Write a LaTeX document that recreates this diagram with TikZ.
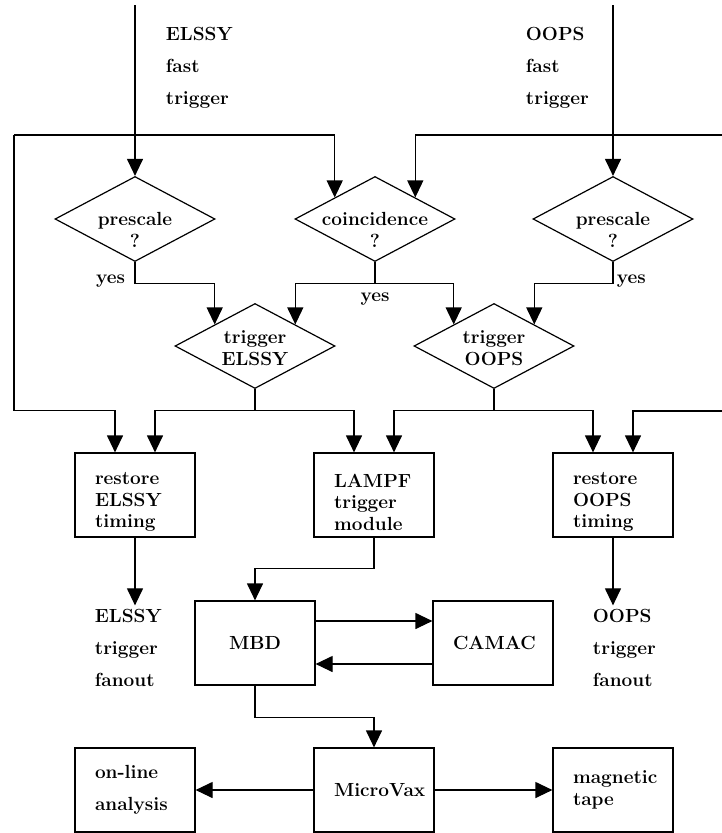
\documentclass[tikz,border=0pt]{standalone}
\usepackage{tikz}
\usetikzlibrary{arrows.meta,calc,positioning,shapes.geometric}
\tikzset{
>={Triangle[length=17pt,width=16pt]}, % big filled arrow heads
node distance=239pt, % step between the three columns
every node/.style={font=\fontsize{19}{21.5}\selectfont\bfseries},
decision/.style={diamond, draw, minimum width=160pt, minimum height=85pt, inner sep=0pt},
block/.style={rectangle, draw, minimum width=120pt, minimum height=84pt, inner sep=0pt, text width=80pt, align=left},
stack/.style={label={[align=left,text width=80pt,yshift=-7pt]center:{#1}}},
loose/.style={align=left, font=\fontsize{19}{32}\selectfont\bfseries},
}
\tikzset{
    edgemid/.style args={#1 and #2}{
         at = ($(#1)!0.5!(#2)$)
    }
}
\begin{document}
\begin{tikzpicture}[x=1pt,y=-1pt,on grid,line width=1.2pt]
   \useasboundingbox (0,0) rectangle (722,833);
   \node[decision, label={[align=center,yshift=-11pt]center:{prescale\\?}}] (pL) at (135,219) {};
   \node[decision, label={[align=center,yshift=-11pt]center:{coincidence\\?}}] (co) [right=240pt of pL] {};
   \node[decision, label={[align=center,yshift=-11pt]center:{prescale\\?}}] (pR) [right=238pt of co] {};
   \node[decision, label={[align=center,yshift=-2pt]center:{trigger\\ELSSY}}] (tE) at (255,346) {};
   \node[decision, label={[align=center,yshift=-2pt]center:{trigger\\OOPS}}] (tO) [right=of tE] {};
   \node[block, stack={restore\\ELSSY\\timing}] (rE) at (135,495) {};
   \node[block, stack={LAMPF\\trigger\\module}] (lampf) [right=of rE] {};
   \node[block, stack={restore\\OOPS\\timing}] (rO) [right=of lampf] {};
   \node[block, align=center] (mbd) at (255,643) {MBD};
   \node[block, align=center] (camac) [right=238pt of mbd] {CAMAC};
   \node[block, loose] (online) at (135,790) {on-line\\analysis};
   \node[block, align=center] (mvax) [right=of online] {MicroVax};
   \node[block] (tape) [right=of mvax] {magnetic\\tape};
   \node[loose, anchor=west] (lblE) at (162,68) {ELSSY\\fast\\trigger};
   \node[loose, anchor=west] (lblO) at (522,68) {OOPS\\fast\\trigger};
   \node[loose, anchor=west] (fE) at (91,648) {ELSSY\\trigger\\fanout};
   \node[loose, anchor=west] (fO) at (589,648) {OOPS\\trigger\\fanout};
   \coordinate (inE) at (135,5);
   \coordinate (inO) at (613,5);
   \coordinate (byE) at (14,135);
   \coordinate (byO) at (722,135);
   \coordinate (byO2) at (722,411);
   \coordinate[edgemid=co.north and co.west] (coW);
   \coordinate[edgemid=co.north and co.east] (coE);
   \coordinate[edgemid=tE.north and tE.west] (tEW);
   \coordinate[edgemid=tE.north and tE.east] (tEE);
   \coordinate[edgemid=tO.north and tO.west] (tOW);
   \coordinate[edgemid=tO.north and tO.east] (tOE);
   \coordinate (rEa) at ($(rE.north)+(-20,0)$);
   \coordinate (rEb) at ($(rE.north)+(20,0)$);
   \coordinate (lampfa) at ($(lampf.north)+(-20,0)$);
   \coordinate (lampfb) at ($(lampf.north)+(20,0)$);
   \coordinate (rOa) at ($(rO.north)+(-20,0)$);
   \coordinate (rOb) at ($(rO.north)+(20,0)$);
   \draw[->] (inE) -- (pL.north);
   \draw[->] (inO) -- (pR.north);
   \draw[->] (byE) -| (coW);
   \draw[->] (byO) -| (coE);
   \draw[->] (pL.south) -- ++(0,21) node[left,xshift=-6pt,yshift=2pt] (yesE) {yes} -| (tEW);
   \draw[->] (pR.south) -- ++(0,21) node[right,yshift=2pt] (yesO) {yes} -| (tOE);
   \draw (co.south) -- ++(0,21) coordinate (coj) node[below,yshift=-6pt] (yesC) {yes};
   \draw[->] (coj) -| (tEE);
   \draw[->] (coj) -| (tOW);
   \draw (tE.south) -- ++(0,21) coordinate (tEj);
   \draw (tO.south) -- ++(0,21) coordinate (tOj);
   \draw[->] (byE) -- (byE |- tEj) -| (rEa);
   \draw[->] (tEj) -| (rEb);
   \draw[->] (tEj) -| (lampfa);
   \draw[->] (tOj) -| (lampfb);
   \draw[->] (tOj) -| (rOa);
   \draw[->] (byO2) -| (rOb);
   \draw[->] (rE.south) -- (rE.south |- fE.north);
   \draw[->] (rO.south) -- (rO.south |- fO.north);
   \draw[->] (lampf.south) -- ++(0,31) -| (mbd.north);
   \draw[->] ($(mbd.east)+(0,-22)$) -- ($(camac.west)+(0,-22)$);
   \draw[->] ($(camac.west)+(0,21)$) -- ($(mbd.east)+(0,21)$);
   \draw[->] (mbd.south) -- ++(0,32) -| (mvax.north);
   \draw[->] (mvax) -- (online);
   \draw[->] (mvax) -- (tape);
\end{tikzpicture}
\end{document}
